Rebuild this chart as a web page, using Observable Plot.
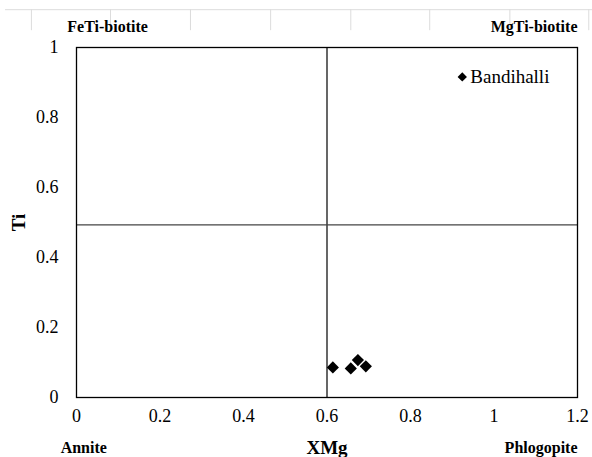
<!DOCTYPE html>
<html><head>
<meta charset="utf-8">
<script src="https://cdn.jsdelivr.net/npm/d3@7"></script>
<script src="https://cdn.jsdelivr.net/npm/@observablehq/plot@0.6"></script>
<style>body{margin:0;background:#fff}svg{display:block}</style>
</head><body><div id="chart"></div>
<script>
// Samples
const xmg = [0.614, 0.657, 0.674, 0.693];
const ti  = [0.086, 0.083, 0.107, 0.089];
// Labelled reference point
const refName = ["Bandihalli"];
const refX = [0.924];
const refY = [0.916];
// Ticks
const xTicks = [0, 0.2, 0.4, 0.6, 0.8, 1, 1.2];
const yTicks = [0, 0.2, 0.4, 0.6, 0.8, 1];
// Field dividers
const dividerX = [0.6];
const dividerY = [0.493];
// Corner field names
const topLeftName = ["FeTi-biotite"];
const topRightName = ["MgTi-biotite"];
const bottomLeftName = ["Annite"];
const bottomRightName = ["Phlogopite"];
// spreadsheet cell borders visible above the chart
const sheetColsX = [-0.108, 0.0815, 0.273, 0.465, 0.657, 0.846, 1.038, 1.227];

const pts = xmg.map((x, i) => ({x, y: ti[i]}));
const ref = refName.map((n, i) => ({name: n, x: refX[i], y: refY[i]}));
const serif = "'Liberation Serif', 'Times New Roman', serif";
const T = (data, opts) => Plot.text(data, {text: d => d, fill: "#000", fontFamily: serif, ...opts});

const chart = Plot.plot({
  width: 592,
  height: 457,
  marginLeft: 76,
  marginRight: 15,
  marginTop: 47,
  marginBottom: 60,
  style: {fontFamily: serif, fontSize: "18px", background: "#fff", color: "#000"},
  x: {domain: [0, 1.2], label: null},
  y: {domain: [0, 1], label: null},
  marks: [
    Plot.ruleY([1.108], {x1: -0.17, x2: 1.24, stroke: "#dcdcdc", strokeWidth: 1}),
    Plot.ruleX(sheetColsX, {y1: 1.048, y2: 1.108, stroke: "#dcdcdc", strokeWidth: 1}),
    Plot.ruleX(dividerX, {stroke: "#000", strokeWidth: 1.2}),
    Plot.ruleY(dividerY, {stroke: "#444", strokeWidth: 1.3}),
    Plot.frame({stroke: "#000", strokeWidth: 1.3}),
    Plot.axisX({ticks: xTicks, tickSize: 0, tickPadding: 12, fontSize: 18, fontFamily: serif, tickFormat: d => String(d)}),
    Plot.axisY({ticks: yTicks, tickSize: 0, tickPadding: 18, fontSize: 18, fontFamily: serif, tickFormat: d => String(d)}),
    Plot.dot(pts, {x: "x", y: "y", symbol: "diamond2", r: 5.5, fill: "#000", stroke: "none"}),
    Plot.dot(ref, {x: "x", y: "y", symbol: "diamond2", r: 4.2, fill: "#000", stroke: "none"}),
    Plot.text(ref, {x: "x", y: "y", text: "name", textAnchor: "start", dx: 8, fontSize: 19, fontFamily: serif, fill: "#000"}),
    T(topLeftName, {x: [-0.022], y: [1.06], textAnchor: "start", fontWeight: "bold", fontSize: 16}),
    T(topRightName, {x: [1.2], y: [1.06], textAnchor: "end", fontWeight: "bold", fontSize: 16}),
    T(bottomLeftName, {x: [-0.038], y: [-0.143], textAnchor: "start", fontWeight: "bold", fontSize: 16}),
    T(bottomRightName, {x: [1.2], y: [-0.143], textAnchor: "end", fontWeight: "bold", fontSize: 16}),
    T(["XMg"], {x: [0.6], y: [-0.145], fontWeight: "bold", fontSize: 19}),
    T(["Ti"], {x: [-0.138], y: [0.5], rotate: -90, fontWeight: "bold", fontSize: 19})
  ]
});
document.getElementById("chart").appendChild(chart);
</script>
</body></html>
